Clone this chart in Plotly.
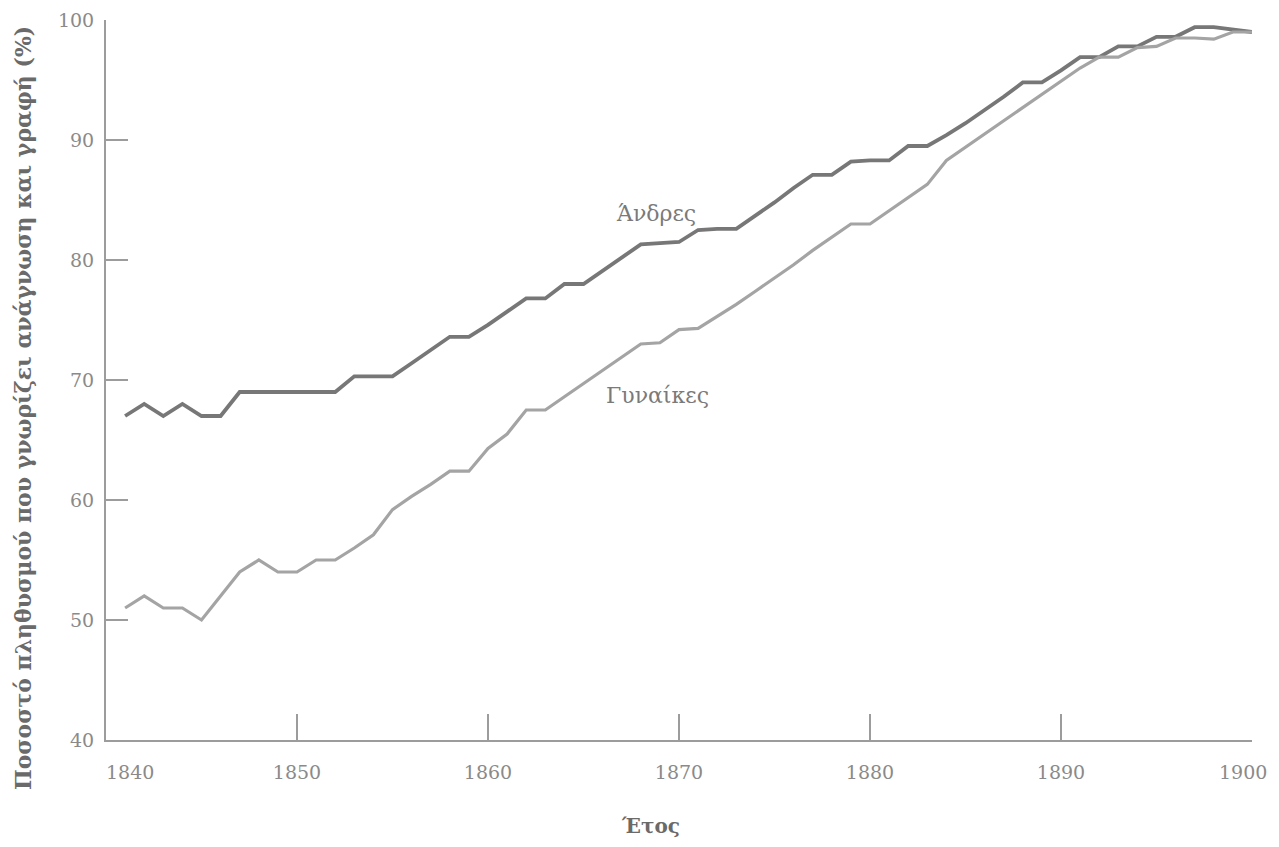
import plotly.graph_objects as go

years = list(range(1841, 1901))

men = [67.0, 68.0, 67.0, 68.0, 67.0, 67.0, 69.0, 69.0, 69.0, 69.0,
       69.0, 69.0, 70.3, 70.3, 70.3, 71.4, 72.5, 73.6, 73.6, 74.6,
       75.7, 76.8, 76.8, 78.0, 78.0, 79.1, 80.2, 81.3, 81.4, 81.5,
       82.5, 82.6, 82.6, 83.7, 84.8, 86.0, 87.1, 87.1, 88.2, 88.3,
       88.3, 89.5, 89.5, 90.4, 91.4, 92.5, 93.6, 94.8, 94.8, 95.8,
       96.9, 96.9, 97.8, 97.8, 98.6, 98.6, 99.4, 99.4, 99.2, 99.0]

women = [51.0, 52.0, 51.0, 51.0, 50.0, 52.0, 54.0, 55.0, 54.0, 54.0,
         55.0, 55.0, 56.0, 57.1, 59.2, 60.3, 61.3, 62.4, 62.4, 64.3,
         65.5, 67.5, 67.5, 68.6, 69.7, 70.8, 71.9, 73.0, 73.1, 74.2,
         74.3, 75.3, 76.3, 77.4, 78.5, 79.6, 80.8, 81.9, 83.0, 83.0,
         84.1, 85.2, 86.3, 88.3, 89.4, 90.5, 91.6, 92.7, 93.8, 94.9,
         96.0, 96.9, 96.9, 97.7, 97.8, 98.5, 98.5, 98.4, 99.0, 99.0]

x_ticks = [1840, 1850, 1860, 1870, 1880, 1890, 1900]
x_labels = ["1840", "1850", "1860", "1870", "1880", "1890", "1900"]
y_ticks = [40, 50, 60, 70, 80, 90, 100]

series_names = ["Άνδρες", "Γυναίκες"]
x_title = "Έτος"
y_title = "Ποσοστό πληθυσμού που γνωρίζει ανάγνωση και γραφή (%)"

AXIS = "#9c9c9c"
TICKFONT = "#8a8a8a"

# first label nudged right (as in the original), last label drawn as annotation
x_ticktext = ["\u2007\u2007\u2007\u2007" + x_labels[0]] + x_labels[1:-1] + [""]

fig = go.Figure()
fig.add_trace(go.Scatter(x=years, y=men, mode="lines", name=series_names[0],
                         line=dict(color="#777777", width=3.8), showlegend=False))
fig.add_trace(go.Scatter(x=years, y=women, mode="lines", name=series_names[1],
                         line=dict(color="#a4a4a4", width=3.2), showlegend=False))

fig.update_layout(
    width=1263, height=831,
    margin=dict(l=98, r=19, t=12, b=99),
    paper_bgcolor="white", plot_bgcolor="white",
    font=dict(family="DejaVu Serif", color=TICKFONT),
    xaxis=dict(range=[1840, 1900], tickvals=x_ticks, ticktext=x_ticktext,
               automargin=False, ticklabeloverflow="allow",
               showgrid=False, zeroline=False, showline=True, linecolor=AXIS, linewidth=2,
               ticks="inside", ticklen=26, tickwidth=2, tickcolor=AXIS,
               tickfont=dict(size=19, color=TICKFONT, family="DejaVu Serif"),
               ticklabelstandoff=14),
    yaxis=dict(range=[40, 100], tickvals=y_ticks,
               automargin=False, ticklabeloverflow="allow",
               showgrid=False, zeroline=False, showline=True, linecolor=AXIS, linewidth=2,
               ticks="inside", ticklen=22, tickwidth=2, tickcolor=AXIS,
               tickfont=dict(size=19, color=TICKFONT, family="DejaVu Serif"),
               ticklabelstandoff=6),
    annotations=[
        dict(text=x_labels[-1], x=x_ticks[-1], y=-0.0444, xref="x", yref="paper",
             showarrow=False, xanchor="center", yanchor="middle", xshift=-9,
             font=dict(size=19, color=TICKFONT, family="DejaVu Serif")),
        dict(text=series_names[0], x=1868.8, y=83.9, xref="x", yref="y", showarrow=False,
             font=dict(size=22, color="#7a7a7a", family="DejaVu Serif")),
        dict(text=series_names[1], x=1868.9, y=68.75, xref="x", yref="y", showarrow=False,
             font=dict(size=22, color="#7a7a7a", family="DejaVu Serif")),
        dict(text="<b>" + x_title + "</b>", x=0.4747, y=-0.119, xref="paper", yref="paper",
             showarrow=False, xanchor="center", yanchor="middle",
             font=dict(size=20, color="#6a6a6a", family="DejaVu Serif")),
        dict(text="<b>" + y_title + "</b>", x=-0.0724, y=0.461, xref="paper", yref="paper",
             showarrow=False, xanchor="center", yanchor="middle", textangle=-90,
             font=dict(size=22, color="#6a6a6a", family="DejaVu Serif")),
    ],
)

fig.write_html("out.html")
